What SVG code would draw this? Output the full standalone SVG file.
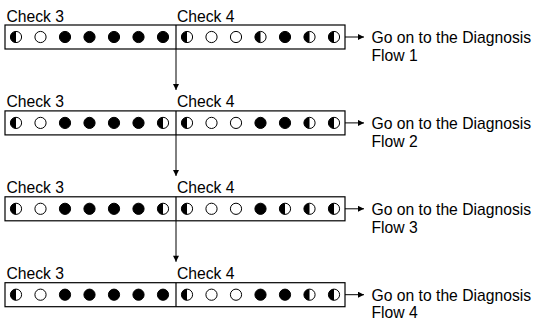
<svg xmlns="http://www.w3.org/2000/svg" width="535" height="320" viewBox="0 0 535 320">
<style>
text{font-family:"Liberation Sans",Arial,sans-serif;font-size:15.7px;fill:#000}
.box{fill:#fff;stroke:#000;stroke-width:1.2}
.div{stroke:#000;stroke-width:1.2}
.o{fill:#fff;stroke:#000;stroke-width:1}
.f{fill:#000;stroke:#000;stroke-width:1}
.ln{stroke:#000;stroke-width:1;fill:none}
</style>
<defs>
<marker id="ah" viewBox="0 0 10 10" refX="10" refY="5" markerWidth="9" markerHeight="6" markerUnits="userSpaceOnUse" orient="auto">
<path d="M0,0 L10,5 L0,10 Z" fill="#000"/>
</marker>
<g id="F"><circle class="f" r="5.6"/></g>
<g id="O"><circle class="o" r="5.6"/></g>
<g id="H"><circle class="o" r="5.6"/><path d="M0,-5.6 A5.6,5.6 0 0 0 0,5.6 Z" fill="#000"/></g>
</defs>

<g id="connectors">
<line class="ln" x1="176" y1="49" x2="176" y2="90" marker-end="url(#ah)"/>
<line class="ln" x1="176" y1="134.9" x2="176" y2="175.9" marker-end="url(#ah)"/>
<line class="ln" x1="176" y1="220.8" x2="176" y2="261.8" marker-end="url(#ah)"/>
<line class="ln" x1="345" y1="37" x2="364" y2="37" marker-end="url(#ah)"/>
<line class="ln" x1="345" y1="122.9" x2="364" y2="122.9" marker-end="url(#ah)"/>
<line class="ln" x1="345" y1="208.8" x2="364" y2="208.8" marker-end="url(#ah)"/>
<line class="ln" x1="345" y1="294.7" x2="364" y2="294.7" marker-end="url(#ah)"/>
</g>

<g id="row1">
<text x="6.5" y="21.5">Check 3</text>
<text x="177" y="21.5">Check 4</text>
<rect class="box" x="5" y="25" width="340" height="24"/>
<line class="div" x1="176" y1="25" x2="176" y2="49"/>
<g transform="translate(0,37)">
<use href="#H" x="16"/><use href="#O" x="40.5"/><use href="#F" x="65"/><use href="#F" x="89.5"/><use href="#F" x="114"/><use href="#F" x="138.5"/><use href="#F" x="163"/>
<use href="#H" x="187"/><use href="#O" x="211.5"/><use href="#O" x="236"/><use href="#H" x="260.5"/><use href="#F" x="285"/><use href="#H" x="309.5"/><use href="#H" x="334"/>
</g>
<text x="371.5" y="42.8">Go on to the Diagnosis</text>
<text x="371.5" y="61">Flow 1</text>
</g>

<g id="row2">
<text x="6.5" y="107.4">Check 3</text>
<text x="177" y="107.4">Check 4</text>
<rect class="box" x="5" y="110.9" width="340" height="24"/>
<line class="div" x1="176" y1="110.9" x2="176" y2="134.9"/>
<g transform="translate(0,122.9)">
<use href="#H" x="16"/><use href="#O" x="40.5"/><use href="#F" x="65"/><use href="#F" x="89.5"/><use href="#F" x="114"/><use href="#F" x="138.5"/><use href="#H" x="163"/>
<use href="#H" x="187"/><use href="#O" x="211.5"/><use href="#O" x="236"/><use href="#F" x="260.5"/><use href="#F" x="285"/><use href="#H" x="309.5"/><use href="#H" x="334"/>
</g>
<text x="371.5" y="128.7">Go on to the Diagnosis</text>
<text x="371.5" y="146.9">Flow 2</text>
</g>

<g id="row3">
<text x="6.5" y="193.3">Check 3</text>
<text x="177" y="193.3">Check 4</text>
<rect class="box" x="5" y="196.8" width="340" height="24"/>
<line class="div" x1="176" y1="196.8" x2="176" y2="220.8"/>
<g transform="translate(0,208.8)">
<use href="#H" x="16"/><use href="#O" x="40.5"/><use href="#F" x="65"/><use href="#F" x="89.5"/><use href="#F" x="114"/><use href="#F" x="138.5"/><use href="#H" x="163"/>
<use href="#H" x="187"/><use href="#O" x="211.5"/><use href="#O" x="236"/><use href="#F" x="260.5"/><use href="#H" x="285"/><use href="#H" x="309.5"/><use href="#H" x="334"/>
</g>
<text x="371.5" y="214.6">Go on to the Diagnosis</text>
<text x="371.5" y="232.8">Flow 3</text>
</g>

<g id="row4">
<text x="6.5" y="279.2">Check 3</text>
<text x="177" y="279.2">Check 4</text>
<rect class="box" x="5" y="282.7" width="340" height="24"/>
<line class="div" x1="176" y1="282.7" x2="176" y2="306.7"/>
<g transform="translate(0,294.7)">
<use href="#H" x="16"/><use href="#O" x="40.5"/><use href="#F" x="65"/><use href="#F" x="89.5"/><use href="#F" x="114"/><use href="#F" x="138.5"/><use href="#F" x="163"/>
<use href="#H" x="187"/><use href="#O" x="211.5"/><use href="#O" x="236"/><use href="#F" x="260.5"/><use href="#F" x="285"/><use href="#H" x="309.5"/><use href="#H" x="334"/>
</g>
<text x="371.5" y="300.5">Go on to the Diagnosis</text>
<text x="371.5" y="318.2">Flow 4</text>
</g>
</svg>
